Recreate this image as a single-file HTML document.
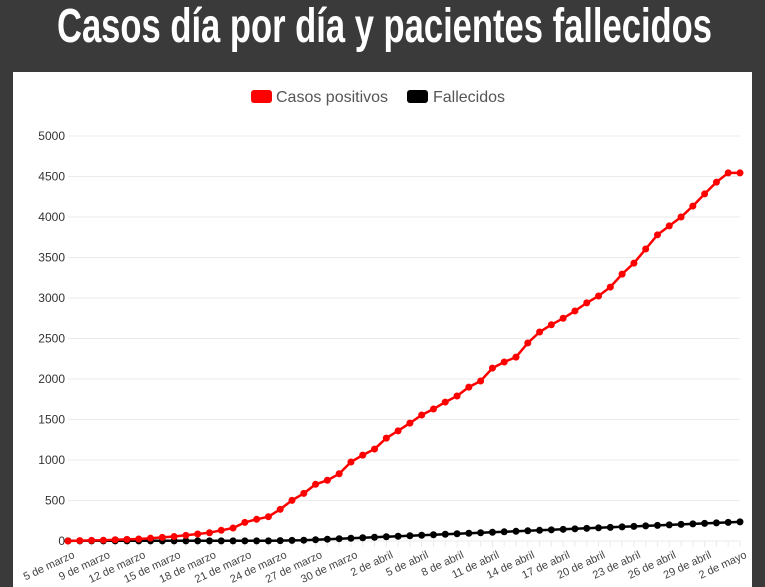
<!DOCTYPE html>
<html><head><meta charset="utf-8"><style>
html,body{margin:0;padding:0;width:765px;height:587px;overflow:hidden;background:#3a3a3a;}
#p{position:absolute;left:13px;top:72px;width:739px;height:515px;background:#fff;}
svg{position:absolute;left:0;top:0;}
</style></head><body>
<div id="p"></div>
<svg id="s" width="765" height="587" font-family="Liberation Sans, sans-serif"></svg>
<script>
var red=[0,5,8,10,15,20,25,35,45,55,70,86,102,132,160,230,268,300,391,502,588,700,750,830,975,1060,1135,1270,1360,1455,1555,1630,1715,1790,1900,1975,2135,2210,2270,2445,2580,2670,2750,2840,2940,3025,3135,3295,3430,3605,3780,3890,4000,4135,4285,4430,4545,4545];
var blk=[];for(var i=0;i<58;i++){blk.push(i<18?2:i<20?2+(i-17)*3:10+(i-20)*6.1);}
var X=function(i){return 68+i*672/57;},Y=function(v){return 541-v*0.081;};
var s='<text x="57" y="42" font-size="48" font-weight="bold" fill="#fff" textLength="655" lengthAdjust="spacingAndGlyphs" font-family="Liberation Sans Narrow, Liberation Sans, sans-serif">Casos día por día y pacientes fallecidos</text>';
for(var v=0;v<=5000;v+=500){var y=Y(v);s+='<line x1="68" x2="740" y1="'+y+'" y2="'+y+'" stroke="#ebebeb"/>';s+='<text x="65" y="'+(y+4)+'" font-size="12" text-anchor="end" fill="#333">'+v+'</text>';}
for(var i=0;i<58;i++){s+='<line x1="'+X(i)+'" x2="'+X(i)+'" y1="541" y2="547" stroke="#ebebeb"/>';}
var labs=['5 de marzo','9 de marzo','12 de marzo','15 de marzo','18 de marzo','21 de marzo','24 de marzo','27 de marzo','30 de marzo','2 de abril','5 de abril','8 de abril','11 de abril','14 de abril','17 de abril','20 de abril','23 de abril','26 de abril','29 de abril','2 de mayo'];
for(var k=0;k<20;k++){var x=X(k*3)+4,y=550;s+='<text transform="translate('+x+','+y+') rotate(-25)" font-size="11" text-anchor="end" dy="8" fill="#444">'+labs[k]+'</text>';}
function ser(d,c){var p='';for(var i=0;i<58;i++)p+=(i?'L':'M')+X(i).toFixed(1)+','+Y(d[i]).toFixed(1);var o='<path d="'+p+'" fill="none" stroke="'+c+'" stroke-width="2.5"/>';for(var i=0;i<58;i++)o+='<circle cx="'+X(i)+'" cy="'+Y(d[i])+'" r="3.5" fill="'+c+'"/>';return o;}
s+=ser(blk,'#000');s+=ser(red,'#ff0000');
s+='<rect x="251" y="90" width="21" height="13" rx="3" fill="#ff0000"/><text x="276" y="102" font-size="16" fill="#555">Casos positivos</text>';
s+='<rect x="407" y="90" width="21" height="13" rx="3" fill="#000"/><text x="433" y="102" font-size="16" fill="#555">Fallecidos</text>';
document.getElementById('s').innerHTML=s;
</script>
</body></html>
